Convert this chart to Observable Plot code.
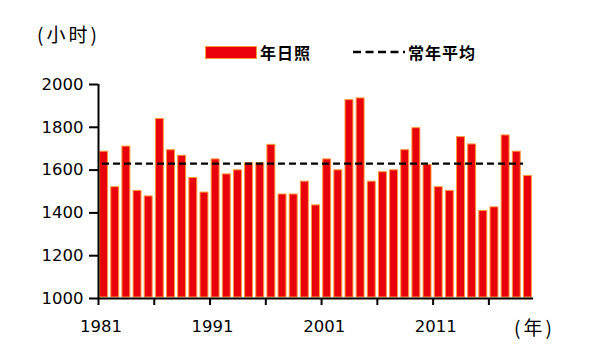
<!DOCTYPE html>
<html>
<head>
<meta charset="utf-8">
<script src="https://cdn.jsdelivr.net/npm/d3@7"></script>
<script src="https://cdn.jsdelivr.net/npm/@observablehq/plot@0.6"></script>
<style>
  html, body { margin: 0; padding: 0; background: #fff; }
  #wrap { position: relative; width: 600px; height: 360px; overflow: hidden; }
  .lbl { position: absolute; white-space: nowrap; color: #000; font-family: "Noto Sans CJK SC", sans-serif; }
</style>
</head>
<body>
<div id="wrap">
  <div class="lbl" style="left:37px;top:24px;font-size:19px;line-height:20px;letter-spacing:3px;">(小时)</div>
  <div style="position:absolute;left:205px;top:46px;width:50px;height:11px;background:#e8000b;border:1px solid #ff9a3c;"></div>
  <div class="lbl" style="left:260px;top:44px;font-size:16px;line-height:16px;font-weight:bold;letter-spacing:1px;">年日照</div>
  <svg style="position:absolute;left:353px;top:46px" width="52" height="12"><line x1="0" x2="52" y1="6" y2="6" stroke="#000" stroke-width="2.3" stroke-dasharray="8,4.5"/></svg>
  <div class="lbl" style="left:408px;top:44px;font-size:16px;line-height:16px;font-weight:bold;letter-spacing:1px;">常年平均</div>
  <div class="lbl" style="left:514px;top:317px;font-size:19px;line-height:20px;letter-spacing:3px;">(年)</div>
</div>
<script>
const years = [1981,1982,1983,1984,1985,1986,1987,1988,1989,1990,
               1991,1992,1993,1994,1995,1996,1997,1998,1999,2000,
               2001,2002,2003,2004,2005,2006,2007,2008,2009,2010,
               2011,2012,2013,2014,2015,2016,2017,2018,2019];
const sunshine = [1686,1520,1710,1503,1477,1839,1693,1667,1563,1495,
                  1650,1580,1599,1632,1632,1718,1486,1486,1546,1435,
                  1650,1599,1927,1935,1546,1590,1599,1693,1796,1624,
                  1520,1503,1754,1720,1409,1426,1762,1686,1573];
const normalAvg = 1630;
const yTicks = [1000,1200,1400,1600,1800,2000];
const xLabelYears = [1981,1991,2001,2011];
const xTickEvery = 5;

const data = years.map((y, i) => ({year: y, value: sunshine[i]}));
const xDomain = [years[0] - 0.5, years[years.length - 1] + 0.5];
const yDomain = [yTicks[0], yTicks[yTicks.length - 1]];
const boundaryTicks = years.filter((y, i) => i % xTickEvery === 0).map(y => y - 0.5);

const chart = Plot.plot({
  width: 600,
  height: 360,
  marginLeft: 98,
  marginRight: 67,
  marginTop: 84,
  marginBottom: 62,
  style: {fontFamily: "DejaVu Sans, sans-serif", fontSize: "16.5px", color: "#000", background: "transparent"},
  x: {type: "linear", domain: xDomain, label: null},
  y: {domain: yDomain, label: null},
  marks: [
    Plot.rect(data, {
      x1: d => d.year - 0.5, x2: d => d.year + 0.5,
      y1: () => yDomain[0], y2: "value",
      insetLeft: 1.6, insetRight: 1.6, insetTop: 0, insetBottom: 1,
      fill: "#e8000b", stroke: "#ff9a3c", strokeWidth: 1
    }),
    Plot.ruleY([normalAvg], {stroke: "#000", strokeWidth: 2.2, strokeDasharray: "7,4", insetLeft: 4, insetRight: 10}),
    Plot.ruleX([xDomain[0]], {y1: yDomain[0], y2: yDomain[1], stroke: "#000", strokeWidth: 2}),
    Plot.ruleY([yDomain[0]], {stroke: "#000", strokeWidth: 2}),
    Plot.axisY({ticks: yTicks, tickSize: 9, tickPadding: 6, tickFormat: d => String(d), fontSize: 16.5, strokeWidth: 2, label: null}),
    Plot.axisX({ticks: boundaryTicks, tickSize: 7, tickFormat: () => "", strokeWidth: 2, label: null}),
    Plot.axisX({ticks: xLabelYears, tickSize: 0, tickPadding: 22, tickFormat: d => String(d), fontSize: 16.5, dx: -3, label: null})
  ]
});
document.getElementById("wrap").prepend(chart);
chart.style.position = "absolute";
chart.style.left = "0px";
chart.style.top = "0px";
</script>
</body>
</html>
